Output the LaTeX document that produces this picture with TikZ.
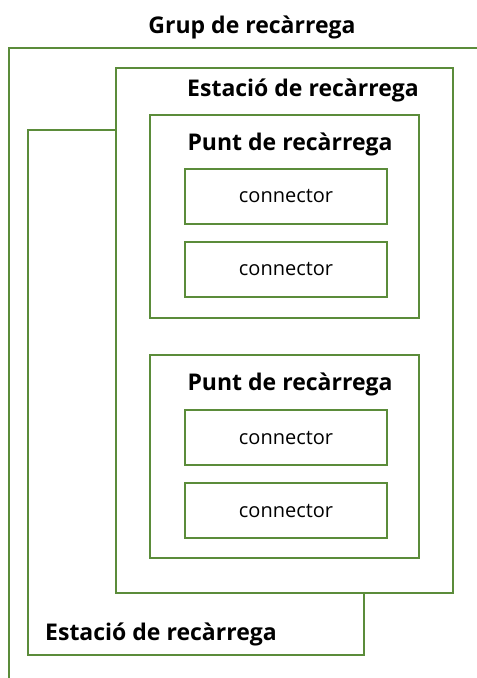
\documentclass[tikz,border=0pt]{standalone}
\usepackage{fontspec}
\setmainfont{Open Sans}
\definecolor{boxgreen}{RGB}{91,140,58}
\tikzset{
  frame/.style={draw=boxgreen, line width=1.5pt, fill=white},
  title/.style={font=\bfseries\fontsize{23}{27}\selectfont, inner sep=0pt, anchor=center},
  conn/.style={frame, minimum width=202pt, minimum height=55pt, inner sep=0pt,
               font=\fontsize{20}{24}\selectfont},
}
\begin{document}
\begin{tikzpicture}[x=1pt,y=-1pt]
\useasboundingbox (0,0) rectangle (477,678);
% charging group: only its top and left edges are in view
\coordinate (g1) at (9,678);
\coordinate (g2) at (9,48);
\coordinate (g3) at (480,48);
\draw[boxgreen, line width=1.5pt] (g1) -- (g2) -- (g3);
\node[title] (grup) at (252,27) {Grup de recàrrega};
% rear charging station
\draw[frame] (28,130) rectangle (364,655);
\node[title, anchor=west] (est2) at (45,634) {Estació de recàrrega};
% front charging station
\draw[frame] (116,68) rectangle (453,593);
\node[title] (est1) at (303,90) {Estació de recàrrega};
% first charging point
\draw[frame] (150,115) rectangle (419,318);
\node[title] (punt1) at (290,144) {Punt de recàrrega};
\node[conn] (c1) at (286,196.5) {connector};
\node[conn] (c2) at (286,269.5) {connector};
% second charging point
\draw[frame] (150,355) rectangle (419,558);
\node[title] (punt2) at (290,384) {Punt de recàrrega};
\node[conn] (c3) at (286,437.5) {connector};
\node[conn] (c4) at (286,510.5) {connector};
\end{tikzpicture}
\end{document}
